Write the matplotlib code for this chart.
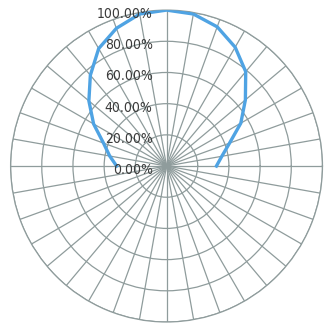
import numpy as np
import matplotlib
matplotlib.use("Agg")
import matplotlib.pyplot as plt
from matplotlib.transforms import offset_copy

# data: angle (deg, 0 = right, counter-clockwise) and relative intensity (%)
angles_deg = [0, 10, 20, 30, 40, 50, 60, 70, 80, 90,
              100, 110, 120, 130, 140, 150, 160, 170, 180]
values = [32, 36, 43, 55, 66, 79, 88, 95, 99, 100,
          99, 94, 87, 76, 65, 54, 43, 37, 32]
tick_values = [0, 20, 40, 60, 80, 100]
tick_labels = ["0.00%", "20.00%", "40.00%", "60.00%", "80.00%", "100.00%"]

grid_color = "#8f9c9c"
line_color = "#4fa3e3"
text_color = "#3a3a3a"

fig = plt.figure(figsize=(3.32, 3.29), dpi=100)
ax = fig.add_axes([0.0316, 0.0213, 0.94, 0.948], projection="polar")
ax.set_theta_zero_location("E")
ax.set_theta_direction(1)
ax.set_ylim(0, 100)

ax.set_xticks(np.deg2rad(np.arange(0, 360, 10)))
ax.set_xticklabels([])
ax.set_yticks(tick_values[1:])
ax.set_yticklabels([])
ax.grid(True, color=grid_color, linewidth=0.9)
ax.spines["polar"].set_color(grid_color)
ax.spines["polar"].set_linewidth(0.9)
ax.tick_params(length=0)

ax.plot(np.deg2rad(angles_deg), values, color=line_color, linewidth=2.4, zorder=3)

trans = offset_copy(ax.transData, fig=fig, x=-14, y=-4, units="dots")
for v, lab in zip(tick_values, tick_labels):
    ax.text(np.pi / 2, v, lab, transform=trans, ha="right", va="center",
            fontsize=10, color=text_color, family="DejaVu Sans",
            fontstretch="condensed", zorder=4)

fig.savefig("out.png", dpi=100)
